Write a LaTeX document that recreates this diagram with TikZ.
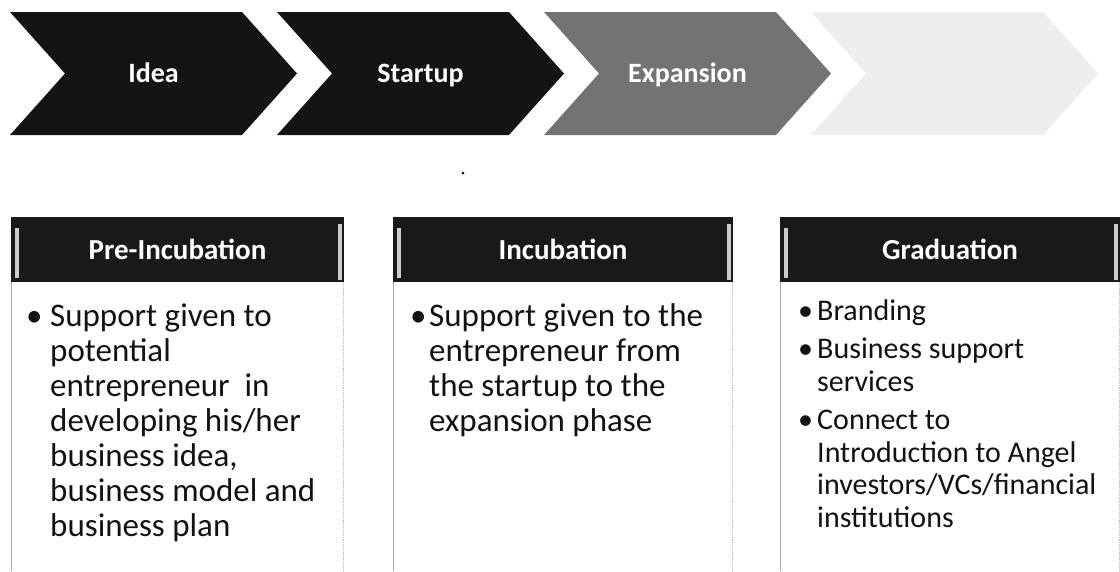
\documentclass[tikz,border=0pt]{standalone}
\usepackage{fontspec}
\setmainfont{Carlito}
\definecolor{darkfill}{gray}{0.08}
\definecolor{midfill}{gray}{0.45}
\definecolor{lightfill}{gray}{0.93}
\definecolor{hdrfill}{gray}{0.10}
\definecolor{txt}{gray}{0.07}
\begin{document}
\begin{tikzpicture}[x=1pt,y=-1pt,
  chevtext/.style={text=white,font=\fontsize{28}{30}\selectfont\bfseries,inner sep=0,anchor=base},
  hdrbox/.style={fill=hdrfill,draw=none},
  hdrtext/.style={text=white,font=\fontsize{29}{31}\selectfont\bfseries,inner sep=0,anchor=base},
  hilite/.style={fill=gray!35,draw=none,rounded corners=1.5pt},
  bodyline/.style={font=\fontsize{33}{35}\selectfont,anchor=base west,inner sep=0,text=txt},
  gradline/.style={font=\fontsize{30}{32}\selectfont,anchor=base west,inner sep=0,text=txt},
  bodyborder/.style={draw=gray!65,line width=0.9pt},
  bodyborderR/.style={draw=gray!55,line width=0.9pt,densely dotted}
]
\useasboundingbox (0,0) rectangle (1120,571);
% chevrons
\def\W{287}\def\D{55}
\foreach \xo/\col in {10/darkfill,277/darkfill,544/midfill,811/lightfill}{
  \fill[\col] (\xo,12) -- ({\xo+\W-\D},12) -- ({\xo+\W},73.5) -- ({\xo+\W-\D},135)
     -- (\xo,135) -- ({\xo+\D},73.5) -- cycle;
}
\node[chevtext] (idea) at (153.5,82.5) {Idea};
\node[chevtext] (startup) at (420.5,82.5) {Startup};
\node[chevtext] (expansion) at (687.5,82.5) {Expansion};
% stray dot
\fill[black] (463,173) circle (1.5);
% boxes
\foreach \l/\r/\nm in {11/344/a,393/733/b,780/1120/c}{
  \fill[hdrfill] (\l,217) rectangle (\r,282);
  \fill[gray!40] ({\l+4},228) rectangle ({\l+8},278);
  \fill[gray!40] ({\r-6},224) rectangle ({\r-2},280);
  \draw[bodyborder] (\l,282) -- (\l,571);
  \draw[bodyborderR] ({\r-1},282) -- ({\r-1},571);
}
\node[hdrtext] (h1) at (177.5,259) {Pre-Incubation};
\node[hdrtext] (h2) at (563,259) {Incubation};
\node[hdrtext] (h3) at (950,259) {Graduation};
% Pre-Incubation text
\node[bodyline] (b1) at (26,326) {•};
\foreach \t [count=\i] in {Support given to,potential,entrepreneur~ in,developing his/her,{business idea,},business model and,business plan}{
  \node[bodyline] (pa\i) at (50,{326+35*(\i-1)}) {\t};
}
% Incubation text
\node[bodyline] (b2) at (410,326) {•};
\foreach \t [count=\i] in {Support given to the,entrepreneur from,the startup to the,expansion phase}{
  \node[bodyline] (pb\i) at (429,{326+35*(\i-1)}) {\t};
}
% Graduation text
\node[gradline] (g1) at (798,320) {•};
\node[gradline] (g2) at (798,358.5) {•};
\node[gradline] (g3) at (798,429.5) {•};
\node[gradline] (gl1) at (817,320) {Branding};
\node[gradline] (gl2) at (817,358.5) {Business support};
\node[gradline] (gl3) at (817,391) {services};
\node[gradline] (gl4) at (817,429.5) {Connect to};
\node[gradline] (gl5) at (817,462) {Introduction to Angel};
\node[gradline] (gl6) at (817,494.5) {investors/VCs/financial};
\node[gradline] (gl7) at (817,527) {institutions};
\end{tikzpicture}
\end{document}
